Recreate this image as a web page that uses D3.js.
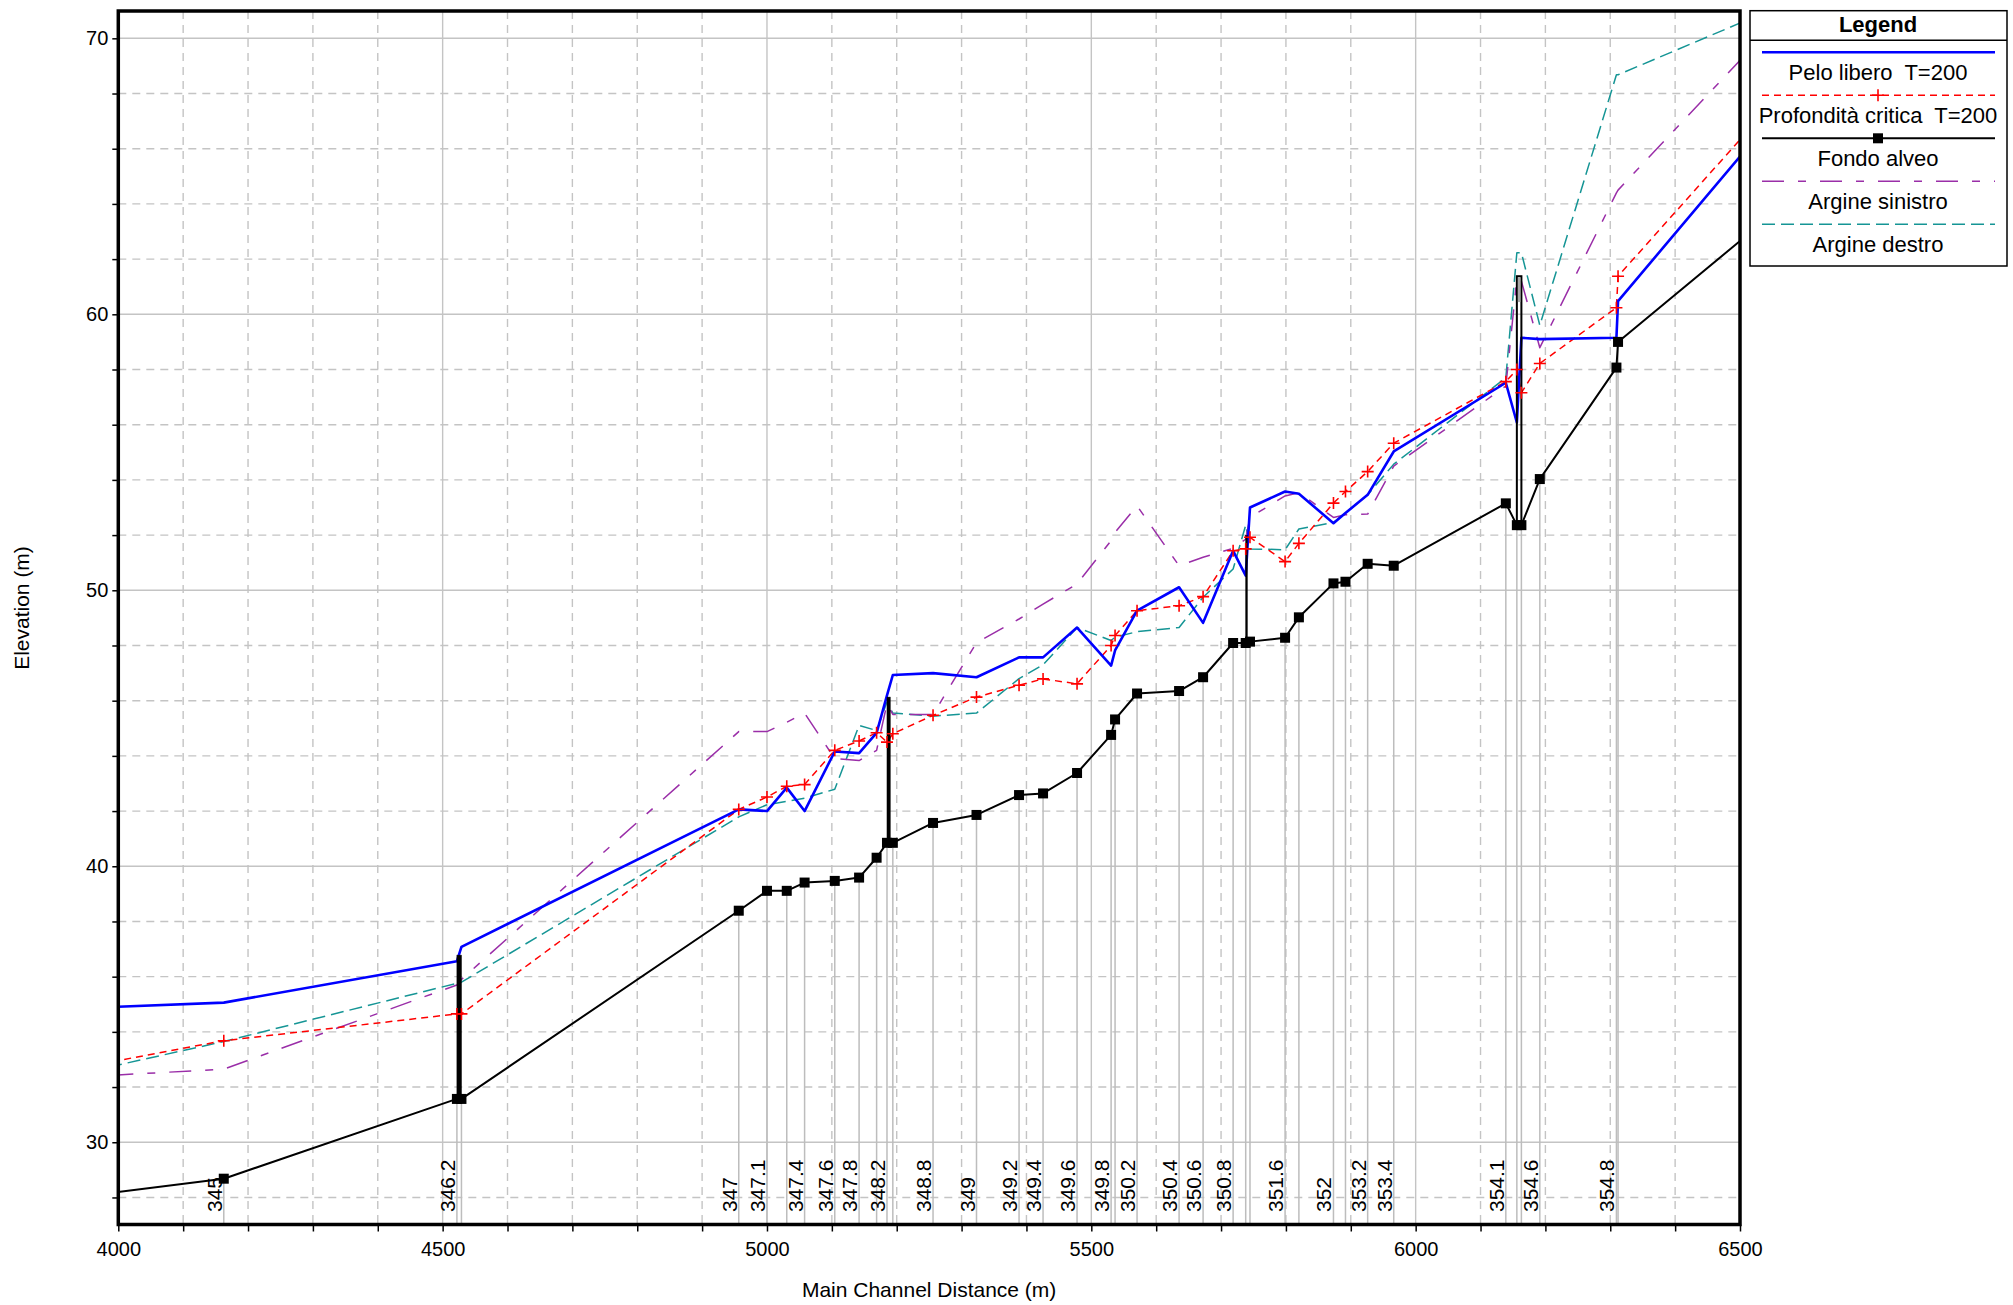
<!DOCTYPE html>
<html>
<head>
<meta charset="utf-8">
<script src="https://cdn.jsdelivr.net/npm/d3@7"></script>
<style>
  body { margin: 0; background: #fff; }
  svg { display: block; font-family: "Liberation Sans", Arial, sans-serif; }
  .leg text { white-space: pre; }
</style>
</head>
<body>
<svg id="chart" width="2013" height="1305"></svg>
<script>
// river stations (main channel distance, m) - first and last lie just outside the view
const stations = [3900, 4162.6, 4522, 4529, 4956.5, 5000, 5030.5, 5058, 5104.5, 5142, 5169, 5185, 5194,
    5256, 5323, 5388.6, 5425.6, 5478, 5530.5, 5536.6, 5570.5, 5635.3, 5672.3, 5718.6, 5738, 5744.6,
    5798.7, 5820, 5873.3, 5891.8, 5926, 5966.2, 6139, 6156, 6163, 6191.4, 6309.5, 6312, 6600];
const stationLabels = ["", "345", "346.2", "", "347", "347.1", "", "347.4", "347.6", "347.8", "", "348.2", "",
    "348.8", "349", "349.2", "349.4", "349.6", "349.8", "", "350.2", "350.4", "350.6", "350.8", "", "",
    "351.6", "", "352", "", "353.2", "353.4", "354.1", "", "", "354.6", "354.8", "", ""];

const fondoAlveo = [27.9, 28.68, 31.57, 31.57, 38.39, 39.11, 39.11, 39.41, 39.47, 39.59, 40.31, 40.85, 40.85,
    41.57, 41.86, 42.58, 42.64, 43.38, 44.76, 45.32, 46.26, 46.35, 46.85, 48.09, 48.09, 48.14,
    48.28, 49.02, 50.25, 50.31, 50.96, 50.89, 53.15, 52.36, 52.36, 54.03, 58.07, 59.0, 64.6];
const peloLibero = [34.82, 35.06, 36.56, 37.08, 42.06, 42.0, 42.85, 42.0, 44.16, 44.10, 44.83, 46.19, 46.93,
    47.0, 46.85, 47.57, 47.57, 48.65, 47.27, 47.82, 49.26, 50.11, 48.82, 51.43, 50.53, 53.0,
    53.58, 53.5, 52.43, 52.8, 53.46, 55.03, 57.52, 56.08, 59.15, 59.1, 59.15, 60.48, 68.5];
const profCritica = [32.52, 33.68, 34.65, 34.65, 42.06, 42.51, 42.9, 42.96, 44.2, 44.54, 44.84, 44.5, 44.8,
    45.47, 46.13, 46.56, 46.79, 46.61, 48.0, 48.36, 49.26, 49.44, 49.77, 51.43, 51.5, 51.92,
    51.04, 51.7, 53.16, 53.58, 54.3, 55.33, 57.56, 58.0, 57.16, 58.22, 60.24, 61.38, 68.96];
const argineSinistro = [32.31, 32.65, 35.7, 35.9, 44.88, 44.88, 45.22, 45.55, 43.9, 43.83, 44.2, 45.89, 45.5,
    45.5, 48.1, 48.96, 49.5, 50.23, 51.8, 52.1, 53.06, 50.89, 51.2, 51.52, 51.85, 52.64,
    53.42, 53.54, 52.64, 52.74, 52.76, 54.5, 57.4, 61.3, 61.2, 58.79, 64.4, 64.5, 71.7];
const argineDestro = [32.28, 33.65, 35.76, 35.8, 41.79, 42.23, 42.35, 42.47, 42.79, 45.1, 44.92, 45.95, 45.55,
    45.44, 45.55, 46.8, 47.3, 48.65, 48.18, 48.3, 48.5, 48.65, 49.75, 50.77, 52.36, 51.5,
    51.47, 52.22, 52.46, 52.8, 53.46, 54.57, 57.7, 62.23, 62.23, 59.6, 68.68, 68.68, 71.55];

// bridges / inline structures
const structFrom = [4522, 5185, 5738, 6156];
const structTo = [4529, 5190, 5740.5, 6163];
const structBottom = [31.57, 40.85, 48.09, 52.36];
const structTop = [36.78, 46.13, 51.98, 61.38];
const deckBottom = [null, null, null, 60.48];

const xTicks = d3.range(4000, 6501, 100);
const yTicks = d3.range(28, 71, 2);

const legendNames = ["Pelo libero  T=200", "Profondità critica  T=200", "Fondo alveo", "Argine sinistro", "Argine destro"];

const svg = d3.select("#chart");
const pL = 118.3, pR = 1740, pT = 11, pB = 1224.5;

const x = d3.scaleLinear().domain([4000, 6500]).range([pL, pR]);
const y = d3.scaleLinear().domain([27.02, 70.99]).range([pB, pT]);

svg.append("defs").append("clipPath").attr("id", "plot")
    .append("rect").attr("x", pL).attr("y", pT).attr("width", pR - pL).attr("height", pB - pT);

// grid
svg.append("g").selectAll("line")
    .data(xTicks.filter(d => d > 4000 && d < 6500))
    .join("line")
    .attr("x1", d => x(d)).attr("x2", d => x(d))
    .attr("y1", pT).attr("y2", pB)
    .attr("stroke", "#c4c4c4").attr("stroke-width", 1.4)
    .attr("stroke-dasharray", d => d % 500 === 0 ? null : "8,6");

svg.append("g").selectAll("line")
    .data(yTicks)
    .join("line")
    .attr("x1", pL).attr("x2", pR)
    .attr("y1", d => y(d)).attr("y2", d => y(d))
    .attr("stroke", "#c4c4c4").attr("stroke-width", 1.4)
    .attr("stroke-dasharray", d => d % 10 === 0 ? null : "8,6");

const shown = stations.map((s, i) => i).filter(i => stations[i] >= 4000 && stations[i] <= 6500);

// station verticals down to the bed
svg.append("g").selectAll("line")
    .data(shown)
    .join("line")
    .attr("x1", i => x(stations[i])).attr("x2", i => x(stations[i]))
    .attr("y1", pB).attr("y2", i => y(fondoAlveo[i]))
    .attr("stroke", "#bdbdbd").attr("stroke-width", 1.5);

// station labels
svg.append("g").selectAll("text")
    .data(shown.filter(i => stationLabels[i] !== ""))
    .join("text")
    .attr("transform", i => `translate(${x(stations[i]) - 2},1212) rotate(-90)`)
    .attr("font-size", 21)
    .text(i => stationLabels[i]);

const plot = svg.append("g").attr("clip-path", "url(#plot)");

const line = d3.line().x((d, i) => x(stations[i])).y(d => y(d));

const series = [
    {values: argineDestro, color: "#159595", width: 1.5, dash: "13,6"},
    {values: argineSinistro, color: "#9a2ea8", width: 1.5, dash: "22,14,8,14"},
    {values: profCritica, color: "#ff0000", width: 1.5, dash: "7,5"},
    {values: peloLibero, color: "#0000ff", width: 2.6, dash: null},
    {values: fondoAlveo, color: "#000000", width: 2, dash: null}
];

plot.selectAll("path.series")
    .data(series)
    .join("path")
    .attr("class", "series")
    .attr("d", d => line(d.values))
    .attr("fill", "none")
    .attr("stroke", d => d.color)
    .attr("stroke-width", d => d.width)
    .attr("stroke-dasharray", d => d.dash)
    .attr("stroke-linejoin", "round");

// structures
const structs = structFrom.map((f, i) => i);
plot.selectAll("rect.struct")
    .data(structs)
    .join("rect")
    .attr("class", "struct")
    .attr("x", i => x(structFrom[i]))
    .attr("width", i => x(structTo[i]) - x(structFrom[i]))
    .attr("y", i => y(structTop[i]))
    .attr("height", i => y(structBottom[i]) - y(structTop[i]))
    .attr("fill", i => deckBottom[i] === null ? "#000" : "none")
    .attr("stroke", "#000")
    .attr("stroke-width", i => deckBottom[i] === null ? 0.5 : 2);
plot.selectAll("rect.deck")
    .data(structs.filter(i => deckBottom[i] !== null))
    .join("rect")
    .attr("class", "deck")
    .attr("x", i => x(structFrom[i]) + 1)
    .attr("width", i => x(structTo[i]) - x(structFrom[i]) - 2)
    .attr("y", i => y(structTop[i]) + 1)
    .attr("height", i => y(deckBottom[i]) - y(structTop[i]))
    .attr("fill", "#a8a8a8");

// critical depth crosses
plot.selectAll("path.cross")
    .data(shown)
    .join("path")
    .attr("class", "cross")
    .attr("transform", i => `translate(${x(stations[i])},${y(profCritica[i])})`)
    .attr("d", "M-6,0H6M0,-6V6")
    .attr("stroke", "#ff0000").attr("stroke-width", 1.6);

// bed squares
plot.selectAll("rect.bed")
    .data(shown)
    .join("rect")
    .attr("class", "bed")
    .attr("x", i => x(stations[i]) - 5)
    .attr("y", i => y(fondoAlveo[i]) - 5)
    .attr("width", 10).attr("height", 10)
    .attr("fill", "#000");

// axes
svg.append("g")
    .attr("transform", `translate(0,${pB})`)
    .call(d3.axisBottom(x).tickValues(xTicks).tickSize(7).tickPadding(10)
        .tickFormat(d => d % 500 === 0 ? d : ""))
    .call(g => g.select(".domain").remove())
    .call(g => g.selectAll("line").attr("stroke-width", 1.5))
    .call(g => g.selectAll("text").attr("font-size", 20).attr("font-family", null));

svg.append("g")
    .attr("transform", `translate(${pL},0)`)
    .call(d3.axisLeft(y).tickValues(yTicks).tickSize(6).tickPadding(4)
        .tickFormat(d => d % 10 === 0 ? d : ""))
    .call(g => g.select(".domain").remove())
    .call(g => g.selectAll("line").attr("stroke-width", 1.5))
    .call(g => g.selectAll("text").attr("font-size", 20).attr("font-family", null));

svg.append("rect")
    .attr("x", pL).attr("y", pT)
    .attr("width", pR - pL).attr("height", pB - pT)
    .attr("fill", "none").attr("stroke", "#000").attr("stroke-width", 3.5);

svg.append("text")
    .attr("transform", `translate(29,608) rotate(-90)`)
    .attr("text-anchor", "middle")
    .attr("font-size", 21)
    .text("Elevation (m)");

svg.append("text")
    .attr("x", (pL + pR) / 2).attr("y", 1297)
    .attr("text-anchor", "middle")
    .attr("font-size", 21)
    .text("Main Channel Distance (m)");

// legend
const leg = svg.append("g").attr("class", "leg");
leg.append("rect")
    .attr("x", 1750).attr("y", 10.7).attr("width", 257).attr("height", 255.3)
    .attr("fill", "#fff").attr("stroke", "#000").attr("stroke-width", 1.5);
leg.append("line")
    .attr("x1", 1750).attr("x2", 2007).attr("y1", 40.3).attr("y2", 40.3)
    .attr("stroke", "#000").attr("stroke-width", 1.5);
leg.append("text")
    .attr("x", 1878).attr("y", 32)
    .attr("text-anchor", "middle").attr("font-size", 22).attr("font-weight", "bold")
    .text("Legend");

const legSeries = [series[3], series[2], series[4], series[1], series[0]];
const legY = d3.scaleLinear().domain([0, 4]).range([52.3, 224.3]);
legSeries.forEach((s, i) => {
    leg.append("line")
        .attr("x1", 1762).attr("x2", 1995)
        .attr("y1", legY(i)).attr("y2", legY(i))
        .attr("stroke", s.color).attr("stroke-width", s.width)
        .attr("stroke-dasharray", s.dash);
    leg.append("text")
        .attr("x", 1878).attr("y", legY(i) + 28)
        .attr("text-anchor", "middle").attr("font-size", 22)
        .text(legendNames[i]);
});
leg.append("path")
    .attr("transform", `translate(1878,${legY(1)})`)
    .attr("d", "M-6,0H6M0,-6V6")
    .attr("stroke", "#ff0000").attr("stroke-width", 1.6);
leg.append("rect")
    .attr("x", 1878 - 5).attr("y", legY(2) - 5)
    .attr("width", 10).attr("height", 10).attr("fill", "#000");
</script>
</body>
</html>
